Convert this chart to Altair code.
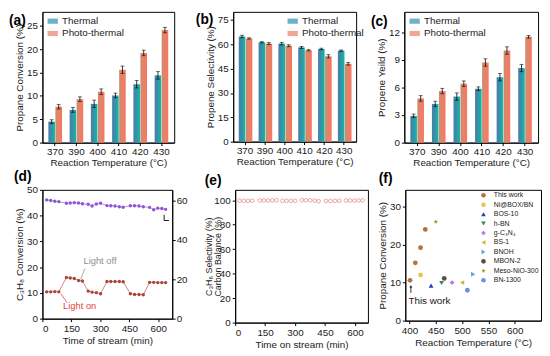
import altair as alt
import pandas as pd

FONT = "Liberation Sans"
TXT = "#1a1a1a"

# ---------------- data: panels (a)-(c) ----------------
temps = ["370", "390", "400", "410", "420", "430"]
series = ["Thermal", "Photo-thermal"]

conv_thermal = [4.5, 7.0, 8.3, 10.1, 12.5, 14.4]
conv_thermal_err = [0.4, 0.5, 0.8, 0.5, 0.8, 0.8]
conv_photo = [7.7, 9.3, 10.9, 15.6, 19.2, 24.1]
conv_photo_err = [0.5, 0.5, 0.6, 0.8, 0.6, 0.6]

sel_thermal = [64.8, 61.2, 60.4, 58.1, 57.1, 56.1]
sel_thermal_err = [0.8, 0.4, 0.8, 0.6, 0.5, 0.4]
sel_photo = [63.6, 60.4, 59.1, 56.3, 52.6, 48.0]
sel_photo_err = [0.4, 0.6, 0.6, 0.4, 1.0, 0.8]

yield_thermal = [2.9, 4.2, 5.0, 5.85, 7.1, 8.1]
yield_thermal_err = [0.2, 0.3, 0.4, 0.2, 0.4, 0.4]
yield_photo = [4.8, 5.6, 6.4, 8.7, 10.0, 11.5]
yield_photo_err = [0.3, 0.3, 0.3, 0.4, 0.4, 0.15]

# ---------------- data: panels (d)-(e) ----------------
t_min = [22, 43, 64, 85, 124, 144, 165, 187, 207, 237, 257, 279, 301,
         334, 354, 376, 398, 418, 455, 477, 500, 522, 555, 576, 597, 618, 638]
c3h8_conv = [10.4, 10.4, 10.5, 10.4, 16.0, 15.8, 15.6, 14.8, 14.6, 10.7, 10.3, 10.1, 9.7,
             14.4, 14.4, 14.4, 14.4, 14.3, 9.7, 9.4, 9.4, 9.3, 14.1, 14.1, 14.0, 14.0, 14.0]
c3h6_sel_right = [60.3, 60.0, 59.6, 59.4, 58.6, 58.7, 58.9, 58.7, 58.3, 58.1, 57.2, 58.2, 58.6,
                  57.4, 57.3, 57.2, 56.8, 56.6, 57.3, 57.3, 57.2, 56.8, 56.5, 55.3, 56.1, 55.9, 55.5]
carbon_bal = [99.6, 99.5, 99.5, 99.6, 99.8, 99.9, 99.8, 99.9, 100.0, 99.6, 99.5, 99.6, 99.5,
              100.1, 100.0, 99.9, 99.7, 99.2, 99.4, 99.4, 99.5, 99.6, 99.8, 99.8, 99.7, 99.8, 99.9]

# annotations (d)
off_text, off_t, off_v = "Light off", 298, 22.4
on_text, on_t, on_v = "Light on", 193, 5.0
off_line_t = [220, 198]
off_line_v = [19.4, 15.3]
on_line_t = [95, 128]
on_line_v = [9.7, 6.2]
corner_t = [630, 630, 655]
corner_v = [40.3, 38.1, 38.1]

# ---------------- data: panel (f) ----------------
refs = ["This work", "Ni@BOX/BN", "BOS-10", "h-BN", "g-C\u2083N\u2084", "BS-1",
        "BNOH", "MBON-2", "Meso-NiO-300", "BN-1300"]
ref_colors = ["#b8733a", "#e6c850", "#2a3db5", "#2e8b5a", "#b07ee8", "#cdb62a",
              "#5fa3dc", "#5b4d45", "#a0921e", "#6f8fe0"]
STAR = "M0,-1L0.225,-0.309L0.951,-0.309L0.363,0.118L0.588,0.809L0,0.382L-0.588,0.809L-0.363,0.118L-0.951,-0.309L-0.225,-0.309Z"
ref_shapes = ["circle", "circle", "triangle-up", "triangle-down", "diamond", "triangle-left",
              "triangle-right", "circle", STAR, "circle"]
f_ref = ["This work"] * 4 + ["Ni@BOX/BN", "BOS-10", "h-BN", "g-C\u2083N\u2084", "BS-1",
                              "BNOH", "MBON-2", "Meso-NiO-300", "BN-1300"]
f_temp = [401, 411, 421, 430, 421, 441, 461, 481, 500, 521, 466, 450, 510]
f_conv = [10.6, 15.2, 19.2, 24.0, 12.0, 9.2, 9.9, 10.0, 10.0, 12.2, 11.1, 26.0, 8.0]


def grad(stops):
    return alt.Gradient(gradient="linear", x1=0, x2=1, y1=0, y2=0,
                        stops=[alt.GradientStop(offset=o, color=c) for o, c in stops])


TH_GRAD = grad([(0, "#4f7aa8"), (0.4, "#3390aa"), (1, "#16b8a2")])
PH_GRAD = grad([(0, "#c48e70"), (0.4, "#e4846a"), (1, "#f97660")])
TH_SOLID = "#2f8fb0"
PH_SOLID = "#e9826a"


def panel_label(text, lx, ly):
    return alt.Chart(pd.DataFrame({"t": [text]})).mark_text(
        align="left", baseline="top", fontSize=14, fontWeight="bold", font=FONT, color="black"
    ).encode(text="t:N", x=alt.value(lx), y=alt.value(ly))


def bar_panel(label, th, th_e, ph, ph_e, ymax, yvals, ytitle, w, h, lx, ly, legx, legy):
    df = pd.DataFrame({"temp": temps + temps,
                       "series": [series[0]] * 6 + [series[1]] * 6,
                       "value": th + ph, "err": th_e + ph_e})
    df["lo"] = df["value"] - df["err"]
    df["hi"] = df["value"] + df["err"]
    x = alt.X("temp:N", sort=temps, scale=alt.Scale(paddingInner=0.36, paddingOuter=0.28),
              axis=alt.Axis(title="Reaction Temperature (\u00b0C)", labelAngle=0,
                            labelPadding=1, titlePadding=1))
    xo = alt.XOffset("series:N", sort=series, scale=alt.Scale(domain=series, paddingInner=0.06))
    ysc = alt.Scale(domain=[0, ymax], nice=False)
    yax = alt.Axis(title=ytitle, values=yvals)
    base = alt.Chart(df)
    bt = base.transform_filter(alt.datum.series == series[0]).mark_bar(color=TH_GRAD).encode(
        x=x, xOffset=xo, y=alt.Y("value:Q", scale=ysc, axis=yax))
    bp = base.transform_filter(alt.datum.series == series[1]).mark_bar(color=PH_GRAD).encode(
        x=x, xOffset=xo, y=alt.Y("value:Q", scale=ysc, axis=yax))
    rules = base.mark_rule(color="black", strokeWidth=0.8).encode(
        x=x, xOffset=xo, y=alt.Y("lo:Q", scale=ysc, axis=yax), y2="hi:Q")
    clo = base.mark_tick(color="black", orient="horizontal", size=4, thickness=0.8).encode(
        x=x, xOffset=xo, y=alt.Y("lo:Q", scale=ysc, axis=yax))
    chi = base.mark_tick(color="black", orient="horizontal", size=4, thickness=0.8).encode(
        x=x, xOffset=xo, y=alt.Y("hi:Q", scale=ysc, axis=yax))
    leg = alt.Chart(pd.DataFrame({"series": series})).mark_square(clip=True, size=10).encode(
        x=alt.value(0), y=alt.value(-200),
        color=alt.Color("series:N", sort=series,
                        scale=alt.Scale(domain=series, range=[TH_SOLID, PH_SOLID]),
                        legend=alt.Legend(title=None, orient="none", legendX=legx, legendY=legy,
                                          symbolType="M-1,-0.5H1V0.5H-1Z", symbolSize=110,
                                          symbolStrokeWidth=0, labelFontSize=10, labelFont=FONT,
                                          labelColor=TXT, rowPadding=1.5, padding=0, labelOffset=4)))
    return alt.layer(bt, bp, rules, clo, chi, leg, panel_label(label, lx, ly)).properties(
        width=w, height=h)


a = bar_panel("(a)", conv_thermal, conv_thermal_err, conv_photo, conv_photo_err,
              28, [0, 5, 10, 15, 20, 25], "Propane Conversion (%)", 134, 133, -34, 2, 5, 4)
b = bar_panel("(b)", sel_thermal, sel_thermal_err, sel_photo, sel_photo_err,
              80, [0, 15, 30, 45, 60, 75], "Propene Selectivity (%)", 125, 132, -38, 1, 55, 4)
c = bar_panel("(c)", yield_thermal, yield_thermal_err, yield_photo, yield_photo_err,
              14.2, [0, 3, 6, 9, 12], "Propene Yeild (%)", 136, 133, -34, 3, 5, 4)

# ---------------- panel (d) ----------------
dd = pd.DataFrame({"t": t_min, "conv": c3h8_conv, "sel": c3h6_sel_right})
xd_sc = alt.Scale(domain=[0, 672], nice=False)
xd = alt.X("t:Q", scale=xd_sc,
           axis=alt.Axis(title="Time of stream (min)", values=[0, 150, 300, 450, 600]))
yl_sc = alt.Scale(domain=[0, 50], nice=False)
yl_ax = alt.Axis(title="C\u2083H\u2088 Conversion (%)", values=[0, 10, 20, 30, 40, 50])
left_line = alt.Chart(dd).mark_line(color="#d98574", strokeWidth=1).encode(
    x=xd, y=alt.Y("conv:Q", scale=yl_sc, axis=yl_ax))
left_pts = alt.Chart(dd).mark_point(filled=True, size=12, color="#a8463a", opacity=1).encode(
    x=xd, y=alt.Y("conv:Q", scale=yl_sc, axis=yl_ax))
off_lab = alt.Chart(pd.DataFrame({"t": [off_t], "v": [off_v], "txt": [off_text]})).mark_text(
    fontSize=9.5, font=FONT, color="#8f8f8f").encode(
    x=xd, y=alt.Y("v:Q", scale=yl_sc, axis=yl_ax), text="txt:N")
on_lab = alt.Chart(pd.DataFrame({"t": [on_t], "v": [on_v], "txt": [on_text]})).mark_text(
    fontSize=9.5, font=FONT, color="#e2453a").encode(
    x=xd, y=alt.Y("v:Q", scale=yl_sc, axis=yl_ax), text="txt:N")
offl = alt.Chart(pd.DataFrame({"t": off_line_t, "v": off_line_v})).mark_line(
    color="#8f8f8f", strokeWidth=0.8).encode(x=xd, y=alt.Y("v:Q", scale=yl_sc, axis=yl_ax))
onl = alt.Chart(pd.DataFrame({"t": on_line_t, "v": on_line_v})).mark_line(
    color="#e2453a", strokeWidth=0.8).encode(x=xd, y=alt.Y("v:Q", scale=yl_sc, axis=yl_ax))
corner = alt.Chart(pd.DataFrame({"t": corner_t, "v": corner_v, "o": [0, 1, 2]})).mark_line(
    color="black", strokeWidth=0.9).encode(x=xd, y=alt.Y("v:Q", scale=yl_sc, axis=yl_ax), order="o:Q")
left_grp = alt.layer(left_line, left_pts, offl, onl, corner, off_lab, on_lab,
                     panel_label("(d)", -29, -20))

yr_sc = alt.Scale(domain=[0, 65.4], nice=False)
yr_ax = alt.Axis(title=None, orient="right", values=[0, 20, 40, 60], labelPadding=1)
right_line = alt.Chart(dd).mark_line(color="#b892e6", strokeWidth=1).encode(
    x=xd, y=alt.Y("sel:Q", scale=yr_sc, axis=yr_ax))
right_pts = alt.Chart(dd).mark_point(filled=True, size=12, color="#8e55d4", opacity=1).encode(
    x=xd, y=alt.Y("sel:Q", scale=yr_sc, axis=yr_ax))
right_grp = alt.layer(right_line, right_pts)
d = alt.layer(left_grp, right_grp).resolve_scale(y="independent").properties(width=132, height=131)

# ---------------- panel (e) ----------------
de = pd.DataFrame({"t": t_min, "cb": carbon_bal})
e_pts = alt.Chart(de).mark_point(filled=False, size=14, color="#e0625a", strokeWidth=0.8).encode(
    x=alt.X("t:Q", scale=alt.Scale(domain=[0, 665], nice=False),
            axis=alt.Axis(title="Time on stream (min)", values=[0, 150, 300, 450, 600])),
    y=alt.Y("cb:Q", scale=alt.Scale(domain=[0, 108.5], nice=False),
            axis=alt.Axis(title=["C\u2083H\u2086 Selectivity (%)", "Carbon Balance (%)"],
                          values=[0, 20, 40, 60, 80, 100], titleFontSize=9, titleLineHeight=9,
                          minExtent=12, maxExtent=12, titlePadding=1)))
e = alt.layer(e_pts, panel_label("(e)", -31, -16)).properties(width=135, height=135)

# ---------------- panel (f) ----------------
dfp = pd.DataFrame({"ref": f_ref, "temp": f_temp, "conv": f_conv})
xf = alt.X("temp:Q", scale=alt.Scale(domain=[392, 650], nice=False),
           axis=alt.Axis(title="Reaction Temperature (\u00b0C)", values=[400, 450, 500, 550, 600]))
yf_sc = alt.Scale(domain=[0, 34.4], nice=False)
yf_ax = alt.Axis(title="Propane Conversion (%)", values=[0, 10, 20, 30])
fleg = alt.Legend(title=None, orient="none", legendX=76, legendY=2, labelFontSize=7,
                  labelFont=FONT, labelColor=TXT, symbolSize=22, rowPadding=1.6, padding=0,
                  labelOffset=7, symbolStrokeWidth=0)
f_pts = alt.Chart(dfp).mark_point(filled=True, size=24, opacity=1).encode(
    x=xf, y=alt.Y("conv:Q", scale=yf_sc, axis=yf_ax),
    color=alt.Color("ref:N", sort=refs, scale=alt.Scale(domain=refs, range=ref_colors), legend=fleg),
    shape=alt.Shape("ref:N", sort=refs, scale=alt.Scale(domain=refs, range=ref_shapes), legend=fleg))
tw_text = alt.Chart(pd.DataFrame({"temp": [438], "conv": [5.1], "txt": ["This work"]})).mark_text(
    fontSize=10, font=FONT, color=TXT).encode(x=xf, y=alt.Y("conv:Q", scale=yf_sc, axis=yf_ax), text="txt:N")
tw_arrow = alt.Chart(pd.DataFrame({"temp": [402.6], "conv": [7.3], "c2": [8.9]})).mark_rule(
    color="black", strokeWidth=0.8).encode(x=xf, y=alt.Y("conv:Q", scale=yf_sc, axis=yf_ax), y2="c2:Q")
tw_head = alt.Chart(pd.DataFrame({"temp": [402.6], "conv": [9.0]})).mark_point(
    shape="triangle-up", filled=True, size=8, color="black", opacity=1).encode(
    x=xf, y=alt.Y("conv:Q", scale=yf_sc, axis=yf_ax))
f = alt.layer(f_pts, tw_text, tw_arrow, tw_head, panel_label("(f)", -27, -18)).properties(
    width=138, height=133)

IND = dict(color="independent", shape="independent")

row1 = alt.hconcat(
    alt.hconcat(a, b, spacing=20).resolve_scale(**IND).resolve_legend(**IND),
    c, spacing=5).resolve_scale(**IND).resolve_legend(**IND)
row2 = alt.hconcat(
    alt.hconcat(d, e, spacing=16).resolve_scale(**IND).resolve_legend(**IND),
    f, spacing=8).resolve_scale(**IND).resolve_legend(**IND)

chart = alt.vconcat(row1, row2, spacing=1).resolve_scale(**IND).resolve_legend(**IND).properties(
    padding=0
).configure(
    font=FONT
).configure_view(
    stroke="black", strokeWidth=1
).configure_axis(
    labelFont=FONT, titleFont=FONT, labelFontSize=10, titleFontSize=10, titleFontWeight="normal",
    labelColor=TXT, titleColor=TXT, domainColor="black", tickColor="black", tickSize=3,
    labelPadding=2, titlePadding=2, grid=False, domainWidth=1, tickWidth=1
)

chart.save("out.html", embed_options={"renderer": "svg", "actions": False})
